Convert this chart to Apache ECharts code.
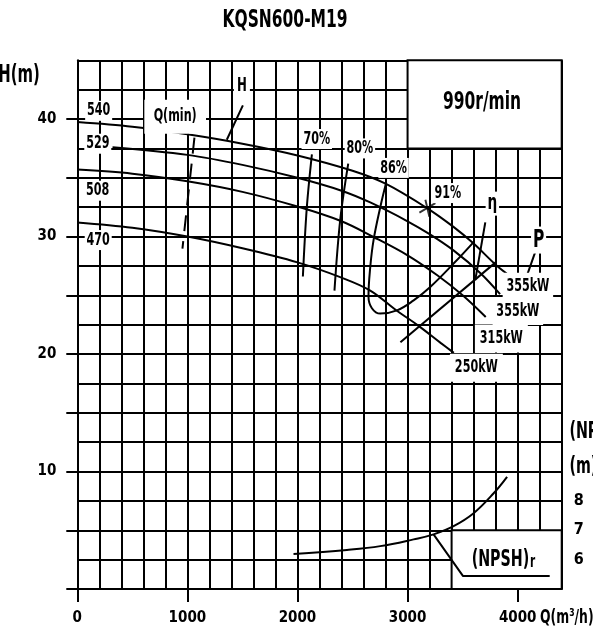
<!DOCTYPE html>
<html><head><meta charset="utf-8">
<script src="https://cdn.jsdelivr.net/npm/echarts@6/dist/echarts.min.js"></script>
<style>html,body{margin:0;padding:0;background:#fff}#c{width:593px;height:633px}</style>
</head><body><div id="c"></div>
<script>
const FONT = "'DejaVu Sans',sans-serif";
const FONT_C = "'DejaVu Sans Condensed','DejaVu Sans',sans-serif";
const FW_C = 'bold condensed';
const SX = 0.62;   // horizontal squeeze to mimic the narrow drafting font

// ---- H-Q curves per impeller diameter (Q m3/h, H m)
const q540 = [0, 500, 1000, 1500, 2000, 2500, 2800, 3180, 3420, 3600, 3800, 3900];
const h540 = [39.75, 39.35, 38.7, 37.9, 36.9, 35.6, 34.5, 32.4, 30.8, 29.4, 27.6, 26.85];
const q529 = [320, 1000, 1500, 2000, 2400, 2661, 3000, 3200, 3420, 3660, 3840];
const h529 = [37.6, 36.95, 36.1, 35.0, 33.9, 32.9, 31.3, 30.2, 28.8, 26.9, 25.1];
const q508 = [0, 500, 1000, 1500, 2000, 2400, 2691, 3000, 3270, 3500, 3710];
const h508 = [35.7, 35.35, 34.7, 33.8, 32.55, 31.3, 29.96, 28.4, 26.7, 25.0, 23.15];
const q470 = [0, 500, 1000, 1500, 2000, 2400, 2661, 2900, 3100, 3300, 3420];
const h470 = [31.2, 30.75, 30.0, 29.0, 27.8, 26.5, 25.4, 23.7, 22.4, 20.95, 20.1];

// ---- iso-efficiency lines
const q70 = [2131, 2085, 2049];  const h70 = [37.0, 32.5, 26.6];
const q80 = [2461, 2388, 2336];  const h80 = [36.2, 31.4, 25.4];
const q86 = [2806, 2752, 2691, 2661, 2645, 2676, 2752, 2904, 3055, 3206, 3418, 3600];
const h86 = [34.6, 32.5, 29.7, 27.4, 24.9, 23.9, 23.44, 23.72, 24.57, 25.71, 27.7, 29.53];
const qEta = [2935, 3800];       const hEta = [21.0, 27.8];
const qMinFlow = [1064, 955];    const hMinFlow = [38.41, 28.97];
const qBep = [3180];             const hBep = [32.4];

// ---- NPSHr curve (m, right axis)
const qNpsh = [1964, 2449, 2752, 3055, 3236, 3418, 3600, 3782, 3904];
const vNpsh = [6.19, 6.33, 6.46, 6.69, 6.86, 7.14, 7.58, 8.26, 8.82];

// ---- leader lines (Q, H)
const qLeadH = [1504, 1358];        const hLeadH = [41.16, 38.24];
const qLeadEta = [3706, 3615];      const hLeadEta = [31.2, 26.3];
const qLeadP = [4160, 4085];        const hLeadP = [28.7, 26.7];
const qLeadNpsh = [3236, 3504, 4291]; const hLeadNpsh = [4.65, 1.1, 1.1];

// ---- blank panels (Q range, H range)
const panelQ = [[3000, 4400], [3400, 4400]];
const panelH = [[37.5, 45], [0, 5]];

// ---- annotations inside the plot
const annotTexts = ['540', '529', '508', '470', 'Q(min)', 'H', '70%', '80%', '86%', '91%', 'η', 'P', '990r/min', '355kW', '355kW', '315kW', '250kW', '(NPSH)r'];
const annotQ = [194, 186, 185, 190, 889, 1495, 2175, 2567, 2873, 3365, 3770, 4190, 3676, 4093, 4002, 3852, 3625, 3870];
const annotH = [40.7, 37.9, 33.9, 29.7, 40.2, 42.8, 38.3, 37.5, 35.84, 33.7, 32.8, 29.7, 41.4, 25.72, 23.66, 21.32, 18.84, 2.47];
// right-axis title lines (left-aligned just outside the plot)
const npshTitleTexts = ['(NPSH)r', '(m)'];
const npshTitleQ = [4470, 4470];
const npshTitleH = [13.35, 10.37];

// ---- axis ticks / labels
const xTickVals = [0, 1000, 2000, 3000, 4000];
const yTickVals = [0, 5, 10, 15, 20, 25, 30, 35, 40];
const yLabelVals = [10, 20, 30, 40];
const npshLabelVals = [6, 7, 8];

const pts = (q, h) => q.map((v, i) => [v, h[i]]);
const BLACK = '#000';
const plain = v => String(v);

function curve(data, extra) {
  return Object.assign({
    type: 'line', data: data, xAxisIndex: 0, yAxisIndex: 0, z: 3,
    symbol: 'none', smooth: 0.35, silent: true,
    lineStyle: { color: BLACK, width: 2 }
  }, extra || {});
}

const sizeMap = { 'H': 19, 'P': 25, 'η': 22, '990r/min': 25, '(NPSH)r': 23 };
const padMap = { 'Q(min)': [8, 15], 'H': [3, 5], '355kW': [5, 6], '315kW': [5, 8], '250kW': [5, 8], '990r/min': [0, 0] };

function textEl(p, t, size, align, withBg, pad) {
  const isNpsh = t === '(NPSH)r';
  return {
    type: 'text', x: p[0], y: p[1], scaleX: SX, silent: true,
    style: {
      text: isNpsh ? '(NPSH){s|r}' : t,
      rich: isNpsh ? { s: { fontSize: Math.round(size * 0.72), fontFamily: FONT, fontWeight: 'bold', fill: BLACK, verticalAlign: 'bottom', padding: [0, 0, 0, 1] } } : undefined,
      fontSize: size, fontFamily: FONT, fontWeight: 'bold', fill: BLACK,
      align: align, verticalAlign: 'middle',
      backgroundColor: withBg ? '#fff' : null, padding: withBg ? pad : 0
    }
  };
}

const series = [
  {
    type: 'line', data: [], z: 1, silent: true, xAxisIndex: 0, yAxisIndex: 0,
    markArea: {
      silent: true,
      itemStyle: { color: '#fff', borderColor: BLACK, borderWidth: 2 },
      data: panelQ.map((q, i) => [{ coord: [q[0], panelH[i][0]] }, { coord: [q[1], panelH[i][1]] }])
    }
  },
  curve(pts(q540, h540)),
  curve(pts(q529, h529)),
  curve(pts(q508, h508)),
  curve(pts(q470, h470)),
  curve(pts(q70, h70)),
  curve(pts(q80, h80)),
  curve(pts(q86, h86), { smooth: 0.4 }),
  curve(pts(qEta, hEta), { smooth: false }),
  curve(pts(qMinFlow, hMinFlow), { smooth: false, lineStyle: { color: BLACK, width: 2, type: [16, 10] } }),
  curve(pts(qLeadH, hLeadH), { smooth: false }),
  curve(pts(qLeadEta, hLeadEta), { smooth: false }),
  curve(pts(qLeadP, hLeadP), { smooth: false }),
  curve(pts(qLeadNpsh, hLeadNpsh), { smooth: false }),
  curve(pts(qNpsh, vNpsh), { yAxisIndex: 2, smooth: 0.4 }),
  {
    type: 'scatter', data: pts(qBep, hBep), z: 4, silent: true,
    symbol: 'path://M0,12L16,3M6,0L10,16', symbolSize: [16, 17],
    itemStyle: { color: 'rgba(0,0,0,0)', borderColor: BLACK, borderWidth: 2 }
  },
  {
    type: 'custom', coordinateSystem: 'cartesian2d', xAxisIndex: 0, yAxisIndex: 0,
    z: 5, silent: true, clip: false,
    data: annotTexts.map((t, i) => [annotQ[i], annotH[i], i]),
    renderItem: (params, api) => {
      const t = annotTexts[api.value(2)];
      const p = api.coord([api.value(0), api.value(1)]);
      return textEl(p, t, sizeMap[t] || 18, 'center', true, padMap[t] || [1, 3]);
    }
  },
  {
    type: 'custom', coordinateSystem: 'cartesian2d', xAxisIndex: 0, yAxisIndex: 0,
    z: 5, silent: true, clip: false,
    data: npshTitleTexts.map((t, i) => [npshTitleQ[i], npshTitleH[i], i]),
    renderItem: (params, api) => {
      const t = npshTitleTexts[api.value(2)];
      const p = api.coord([api.value(0), api.value(1)]);
      return textEl(p, t, 23, 'left', false, 0);
    }
  }
];

const chart = echarts.init(document.getElementById('c'), null, { renderer: 'canvas' });
chart.setOption({
  animation: false,
  backgroundColor: '#fff',
  graphic: [
    { type: 'text', x: 285, y: 20, scaleX: SX, silent: true,
      style: { text: 'KQSN600-M19', fontSize: 25, fontFamily: FONT, fontWeight: 'bold', fill: BLACK, align: 'center', verticalAlign: 'middle' } },
    { type: 'text', x: 19, y: 76, scaleX: SX, silent: true,
      style: { text: 'H(m)', fontSize: 24, fontFamily: FONT, fontWeight: 'bold', fill: BLACK, align: 'center', verticalAlign: 'middle' } },
    { type: 'text', x: 540, y: 618, scaleX: SX, silent: true,
      style: { text: 'Q(m³/h)', fontSize: 20, fontFamily: FONT, fontWeight: 'bold', fill: BLACK, align: 'left', verticalAlign: 'middle' } }
  ],
  grid: { left: 77.3, right: 31.3, top: 60.3, bottom: 44, outerBoundsMode: 'none', containLabel: false },
  xAxis: [
    {
      type: 'value', position: 'bottom', min: 0, max: 4400, interval: 200,
      axisLine: { show: true, onZero: false, lineStyle: { color: BLACK, width: 2 } },
      axisTick: { show: false }, axisLabel: { show: false },
      splitLine: { show: true, lineStyle: { color: BLACK, width: 2 } }
    },
    {
      type: 'value', position: 'bottom', min: 0, max: 4400, interval: 1000,
      axisLine: { show: false },
      axisTick: { show: true, customValues: xTickVals, length: 13, lineStyle: { color: BLACK, width: 2 } },
      axisLabel: { show: true, customValues: xTickVals, formatter: plain, margin: 22, color: BLACK, fontFamily: FONT_C, fontWeight: FW_C, fontSize: 15 },
      splitLine: { show: false }
    }
  ],
  yAxis: [
    {
      type: 'value', position: 'left', min: 0, max: 45, interval: 2.5,
      axisLine: { show: true, onZero: false, lineStyle: { color: BLACK, width: 2 } },
      axisTick: { show: false }, axisLabel: { show: false },
      splitLine: { show: true, lineStyle: { color: BLACK, width: 2 } }
    },
    {
      type: 'value', position: 'left', min: 0, max: 45, interval: 5,
      axisLine: { show: false },
      axisTick: { show: true, customValues: yTickVals, length: 11, lineStyle: { color: BLACK, width: 2 } },
      axisLabel: { show: true, customValues: yLabelVals, formatter: plain, margin: 21, color: BLACK, fontFamily: FONT_C, fontWeight: FW_C, fontSize: 15 },
      splitLine: { show: false }
    },
    {
      type: 'value', position: 'right', min: 5, max: 23, interval: 1,
      axisLine: { show: false }, axisTick: { show: false },
      axisLabel: { show: true, customValues: npshLabelVals, formatter: plain, margin: 12, color: BLACK, fontFamily: FONT_C, fontWeight: FW_C, fontSize: 16 },
      splitLine: { show: false }
    }
  ],
  series: series
});
</script>
</body></html>
